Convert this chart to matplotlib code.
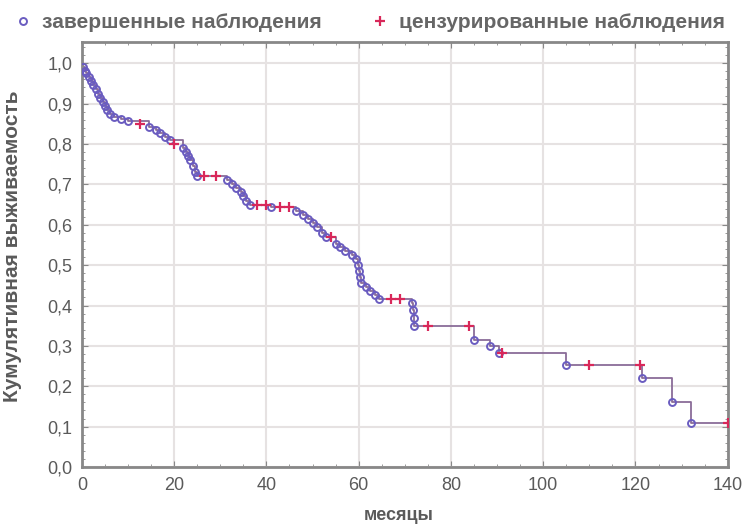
import matplotlib
matplotlib.use("Agg")
import matplotlib.pyplot as plt
from matplotlib.lines import Line2D

plt.rcParams['font.family'] = ['Liberation Sans', 'DejaVu Sans']

# время события (месяцы) и выживаемость после него
event_months = [0.3, 0.6, 1.0, 1.5, 2.0, 2.5, 3.0, 3.5, 4.0, 4.5, 5.0, 5.5, 6.0,
                7.0, 8.5, 10.0, 14.5, 16.0, 17.0, 18.0, 19.0, 22.0, 22.5,
                23.0, 23.5, 24.0, 24.5, 25.0, 31.5, 32.5, 33.5, 34.5, 35.0,
                35.5, 36.5, 41.0, 46.5, 48.0, 49.0, 50.0, 51.0, 52.0, 53.0,
                55.0, 56.0, 57.0, 58.5, 59.5, 59.8, 60.0, 60.2, 60.5, 61.5,
                62.5, 63.5, 64.5, 71.5, 71.7, 71.9, 72.0, 85.0, 88.5, 90.5,
                105.0, 121.5, 128.0, 132.0]
survival = [0.99, 0.982, 0.975, 0.965, 0.955, 0.945, 0.935, 0.925, 0.915,
            0.905, 0.895, 0.885, 0.875, 0.868, 0.862, 0.856, 0.843, 0.835,
            0.826, 0.818, 0.81, 0.79, 0.78, 0.77, 0.76, 0.745, 0.73, 0.72,
            0.71, 0.70, 0.69, 0.68, 0.67, 0.66, 0.65, 0.643, 0.635, 0.625,
            0.615, 0.605, 0.595, 0.58, 0.57, 0.553, 0.545, 0.535, 0.525,
            0.515, 0.50, 0.485, 0.47, 0.455, 0.445, 0.435, 0.425, 0.415,
            0.405, 0.39, 0.37, 0.35, 0.315, 0.30, 0.283, 0.252, 0.22, 0.162,
            0.11]

# цензурированные наблюдения
censored_months = [12.5, 20.0, 26.5, 29.0, 38.0, 40.0, 43.0, 45.0, 54.0,
                   67.0, 69.0, 75.0, 84.0, 91.0, 110.0, 121.0, 140.0]
censored_surv = [0.85, 0.80, 0.72, 0.72, 0.65, 0.65, 0.643, 0.643, 0.57,
                 0.415, 0.415, 0.35, 0.35, 0.283, 0.252, 0.252, 0.11]

line_col = '#8a6c98'
event_col = '#6a5cc0'
cens_col = '#d8285a'
text_col = '#5a5a5a'

fig = plt.figure(figsize=(7.51, 5.28), dpi=100)
ax = fig.add_axes([0.109, 0.1155, 0.86, 0.8045])

xs = [0] + event_months + [140]
ys = [1.0] + survival + [survival[-1]]
ax.step(xs, ys, where='post', color=line_col, lw=1.3, zorder=2)
ax.plot(event_months, survival, 'o', ms=5, mfc='none', mec=event_col, mew=1.4, zorder=3)
ax.plot(censored_months, censored_surv, '+', ms=7, color=cens_col, mew=1.6, zorder=4)

ax.set_xlim(0, 140)
ax.set_ylim(0, 1.052)
ax.set_xticks(range(0, 141, 20))
yt = [i / 10 for i in range(11)]
ax.set_yticks(yt)
ax.set_yticklabels([f"{v:.1f}".replace('.', ',') for v in yt])
ax.minorticks_on()
ax.tick_params(which='both', direction='in', top=True, right=True, colors='#888888',
               labelcolor=text_col, labelsize=13, pad=7)
ax.tick_params(which='major', length=4)
ax.tick_params(which='minor', length=2)
ax.grid(True, which='major', color='#e6e2e2', lw=1.5)
for s in ax.spines.values():
    s.set_color('#888888')
    s.set_linewidth(2)

ax.set_xlabel('месяцы', fontsize=13, color=text_col, fontweight='bold')
ax.xaxis.set_label_coords(0.49, -0.093)
ax.set_ylabel('Кумулятивная выживаемость', fontsize=15, color=text_col, fontweight='bold')
ax.yaxis.set_label_coords(-0.092, 0.52)

handles = [Line2D([], [], ls='none', marker='o', ms=5, mfc='none', mec=event_col, mew=1.4),
           Line2D([], [], ls='none', marker='+', ms=7, color=cens_col, mew=1.6)]
fig.legend(handles, ['завершенные наблюдения', 'цензурированные наблюдения'],
           loc='upper center', bbox_to_anchor=(0.49, 1.01), ncol=2, frameon=False,
           handletextpad=0.3, handlelength=1.2, columnspacing=2.2, labelcolor='#666666',
           prop={'weight': 'bold', 'size': 15})

fig.savefig('out.png', dpi=100)
